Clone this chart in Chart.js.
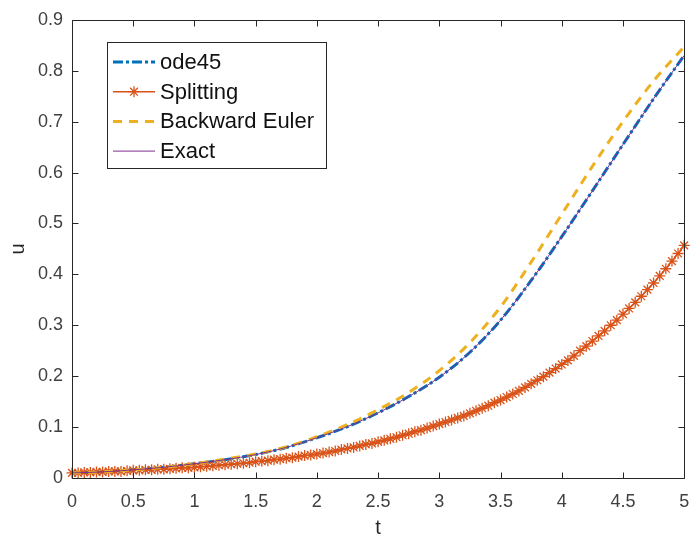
<!DOCTYPE html>
<html><head><meta charset="utf-8">
<script src="https://cdn.jsdelivr.net/npm/chart.js@4.4.1/dist/chart.umd.min.js"></script>
<style>html,body{margin:0;padding:0;background:#fff}canvas{display:block}</style>
</head><body>
<canvas id="c" width="691" height="540" style="width:691px;height:540px"></canvas>
<script>
// ---- data ----
const tSmooth = [0,0.25,0.5,0.75,1,1.25,1.5,1.75,2,2.25,2.5,2.75,3,3.25,3.5,3.75,4,4.25,4.5,4.75,5];
const ode45U = [0.010,0.012,0.016,0.021,0.028,0.036,0.046,0.060,0.079,0.101,0.128,0.160,0.198,0.247,0.310,0.388,0.474,0.564,0.655,0.745,0.830];
const exactU = [0.010,0.012,0.016,0.021,0.028,0.036,0.046,0.060,0.079,0.101,0.128,0.160,0.198,0.247,0.310,0.388,0.474,0.564,0.655,0.745,0.830];
const backwardEulerU = [0.010,0.012,0.016,0.021,0.028,0.037,0.047,0.061,0.081,0.105,0.134,0.168,0.211,0.266,0.336,0.424,0.518,0.612,0.700,0.780,0.847];
const tSplit = [0,0.05,0.1,0.15,0.2,0.25,0.3,0.35,0.4,0.45,0.5,0.55,0.6,0.65,0.7,0.75,0.8,0.85,0.9,0.95,
  1,1.05,1.1,1.15,1.2,1.25,1.3,1.35,1.4,1.45,1.5,1.55,1.6,1.65,1.7,1.75,1.8,1.85,1.9,1.95,
  2,2.05,2.1,2.15,2.2,2.25,2.3,2.35,2.4,2.45,2.5,2.55,2.6,2.65,2.7,2.75,2.8,2.85,2.9,2.95,
  3,3.05,3.1,3.15,3.2,3.25,3.3,3.35,3.4,3.45,3.5,3.55,3.6,3.65,3.7,3.75,3.8,3.85,3.9,3.95,
  4,4.05,4.1,4.15,4.2,4.25,4.3,4.35,4.4,4.45,4.5,4.55,4.6,4.65,4.7,4.75,4.8,4.85,4.9,4.95,5];
const splittingU = [0.010,0.010,0.011,0.011,0.012,0.012,0.013,0.013,0.013,0.014,0.015,0.015,0.016,0.016,0.017,0.017,0.018,0.019,0.020,0.020,
  0.021,0.022,0.023,0.024,0.025,0.026,0.027,0.028,0.029,0.030,0.032,0.033,0.034,0.036,0.037,0.039,0.040,0.042,0.044,0.045,
  0.047,0.049,0.051,0.053,0.056,0.058,0.060,0.063,0.066,0.068,0.071,0.074,0.077,0.080,0.084,0.087,0.091,0.094,0.098,0.102,
  0.106,0.110,0.114,0.118,0.122,0.127,0.132,0.137,0.142,0.148,0.153,0.159,0.165,0.171,0.178,0.185,0.192,0.199,0.207,0.215,
  0.223,0.231,0.240,0.250,0.259,0.269,0.279,0.289,0.300,0.310,0.322,0.333,0.345,0.357,0.370,0.383,0.397,0.411,0.426,0.441,0.457];
const seriesLabels = ['ode45','Splitting','Backward Euler','Exact'];
const xTicks = [0,0.5,1,1.5,2,2.5,3,3.5,4,4.5,5];
const yTicks = [0,0.1,0.2,0.3,0.4,0.5,0.6,0.7,0.8,0.9];

const FONT = '"Liberation Sans", Arial, Helvetica, sans-serif';
const pts = (xs, ys) => xs.map((x, i) => ({x, y: ys[i]}));

const boxPlugin = {
  id: 'matlabBox',
  afterDatasetsDraw(chart) {
    const {ctx, chartArea: a, scales: {x, y}} = chart;
    ctx.save();
    ctx.strokeStyle = '#262626';
    ctx.lineWidth = 1;
    ctx.setLineDash([]);
    const L = Math.round(a.left) + 0.5, R = Math.round(a.right) + 0.5;
    const T = Math.round(a.top) + 0.5, B = Math.round(a.bottom) + 0.5;
    ctx.beginPath();
    ctx.rect(L, T, R - L, B - T);
    const tl = 6;
    x.ticks.forEach(t => {
      const px = Math.round(x.getPixelForValue(t.value)) + 0.5;
      ctx.moveTo(px, B); ctx.lineTo(px, B - tl);
      ctx.moveTo(px, T); ctx.lineTo(px, T + tl);
    });
    y.ticks.forEach(t => {
      const py = Math.round(y.getPixelForValue(t.value)) + 0.5;
      ctx.moveTo(L, py); ctx.lineTo(L + tl, py);
      ctx.moveTo(R, py); ctx.lineTo(R - tl, py);
    });
    ctx.stroke();
    ctx.restore();
  }
};

const legendPlugin = {
  id: 'matlabLegend',
  afterDraw(chart) {
    const ctx = chart.ctx;
    ctx.save();
    const bx = 107, by = 42, bw = 219, bh = 126;
    ctx.fillStyle = '#fff';
    ctx.fillRect(bx, by, bw, bh);
    ctx.strokeStyle = '#262626';
    ctx.lineWidth = 1;
    ctx.strokeRect(bx + 0.5, by + 0.5, bw, bh);
    chart.data.datasets.forEach((ds, i) => {
      const yy = 62 + i * 29.7;
      ctx.strokeStyle = ds.borderColor;
      ctx.lineWidth = ds.borderWidth;
      ctx.setLineDash(ds.borderDash || []);
      ctx.beginPath(); ctx.moveTo(113, yy); ctx.lineTo(155, yy); ctx.stroke();
      ctx.setLineDash([]);
      if (ds.pointRadius > 0) {
        ctx.strokeStyle = ds.pointBorderColor || ds.borderColor;
        ctx.lineWidth = ds.pointBorderWidth;
        Chart.helpers.drawPoint(ctx, {pointStyle: ds.pointStyle, radius: ds.pointRadius, borderWidth: ds.pointBorderWidth, rotation: 0}, 134, yy);
      }
      ctx.fillStyle = '#111';
      ctx.font = '22px ' + FONT;
      ctx.textBaseline = 'middle';
      ctx.textAlign = 'left';
      ctx.fillText(ds.label, 160, yy + 1);
    });
    ctx.restore();
  }
};

new Chart(document.getElementById('c'), {
  type: 'line',
  data: {
    datasets: [
      {label: seriesLabels[0], data: pts(tSmooth, ode45U), borderColor: '#0072BD', borderWidth: 3,
       borderDash: [10, 3, 3, 3], pointRadius: 0, cubicInterpolationMode: 'monotone', order: 3},
      {label: seriesLabels[1], data: pts(tSplit, splittingU), borderColor: '#D95319', borderWidth: 1.5,
       pointStyle: 'star', pointRadius: 5.5, pointBorderWidth: 1.3, pointBorderColor: '#D95319',
       pointBackgroundColor: '#D95319', tension: 0, order: 2},
      {label: seriesLabels[2], data: pts(tSmooth, backwardEulerU), borderColor: '#EDB120', borderWidth: 3,
       borderDash: [9, 7], pointRadius: 0, cubicInterpolationMode: 'monotone', order: 1},
      {label: seriesLabels[3], data: pts(tSmooth, exactU), borderColor: '#7E2F8E', borderWidth: 1,
       pointRadius: 0, cubicInterpolationMode: 'monotone', order: 0}
    ]
  },
  options: {
    responsive: false,
    devicePixelRatio: 1,
    animation: false,
    clip: false,
    layout: {padding: {top: 18, right: 6, left: 0, bottom: 0}},
    plugins: {legend: {display: false}, tooltip: {enabled: false}, title: {display: false}},
    scales: {
      x: {
        type: 'linear', min: 0, max: 5,
        grid: {display: false, drawTicks: false},
        border: {display: false},
        afterBuildTicks: s => { s.ticks = xTicks.map(v => ({value: v})); },
        afterFit: s => { s.height = 62; s.paddingLeft = 0; s.paddingRight = 0; },
        ticks: {padding: 13, color: '#404040', font: {family: FONT, size: 18}, maxRotation: 0,
                callback: v => String(v)},
        title: {display: true, text: 't', color: '#262626', font: {family: FONT, size: 20}, padding: {top: 0, bottom: 0}}
      },
      y: {
        type: 'linear', min: 0, max: 0.9,
        grid: {display: false, drawTicks: false},
        border: {display: false},
        afterBuildTicks: s => { s.ticks = yTicks.map(v => ({value: v})); },
        afterFit: s => { s.width = 72; },
        ticks: {padding: 9, color: '#404040', font: {family: FONT, size: 18},
                callback: v => String(v)},
        title: {display: true, text: 'u', color: '#262626', font: {family: FONT, size: 20}, padding: {top: 6, bottom: 0}}
      }
    }
  },
  plugins: [boxPlugin, legendPlugin]
});
</script>
</body></html>
